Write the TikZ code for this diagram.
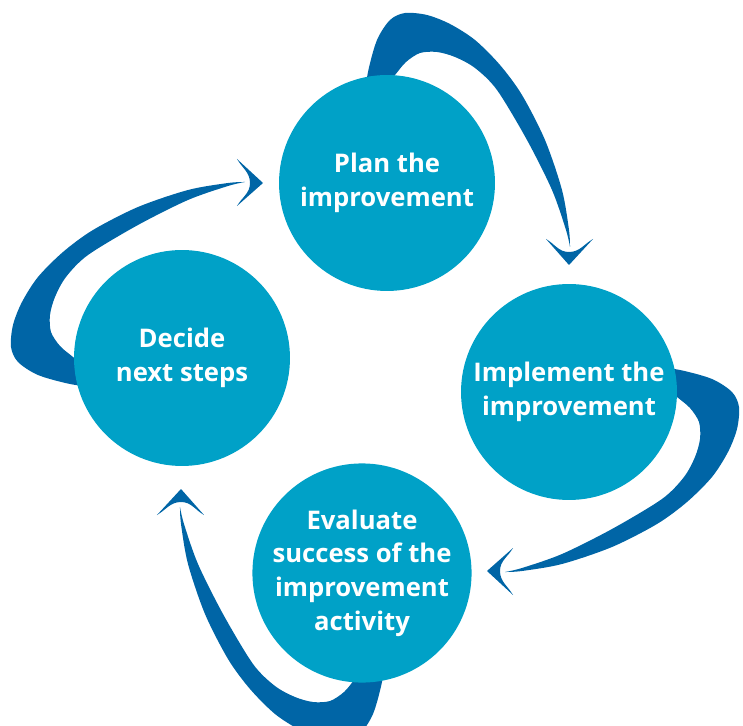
\documentclass[tikz,border=0pt]{standalone}
\usepackage{fontspec}
\setmainfont{Open Sans}
\definecolor{stepblue}{RGB}{0,161,199}
\definecolor{arrowblue}{RGB}{0,101,166}

\begin{document}
\begin{tikzpicture}[x=0.02cm, y=0.02cm,
    stage/.style={circle, fill=stepblue, minimum size=4.32cm, inner sep=0pt,
      text=white, align=center, font=\bfseries\fontsize{14.6}{19.2}\selectfont},
    turn/.style={fill=arrowblue}]

    \useasboundingbox (-375,-349) rectangle (368,377);

    % crescent arrows, one for each quarter turn
    \foreach \r in {0,-90,-180,-270} {
      \begin{scope}[rotate=\r]
        \fill[turn] plot[smooth] coordinates {(-12,270) (-7,305) (2,337) (15,357) (30,364) (52,362) (75,353) (100,337) (125,312) (147,282) (170,237) (187,187) (194,147) (195,130)}
          -- plot[smooth] coordinates {(195,130) (191,147) (177,187) (152,237) (122,287) (100,309) (80,320) (62,325) (45,324) (31,315) (20,302) (2,280)} -- cycle;
        \fill[turn] (171,138) -- (194,112) -- (218,138) to[out=210, in=0] (194,125) to[out=180, in=-30] (171,138) -- cycle;
      \end{scope}
    }

    \node[stage] (plan) at (12,194) {Plan the\\improvement};
    \node[stage] (implement) at (194,-15) {Implement the\\improvement};
    \node[stage] (evaluate) at (-13,-196) {Evaluate\\success of the\\improvement\\activity};
    \node[stage] (decide) at (-193,19) {Decide\\next steps};

\end{tikzpicture}
\end{document}
